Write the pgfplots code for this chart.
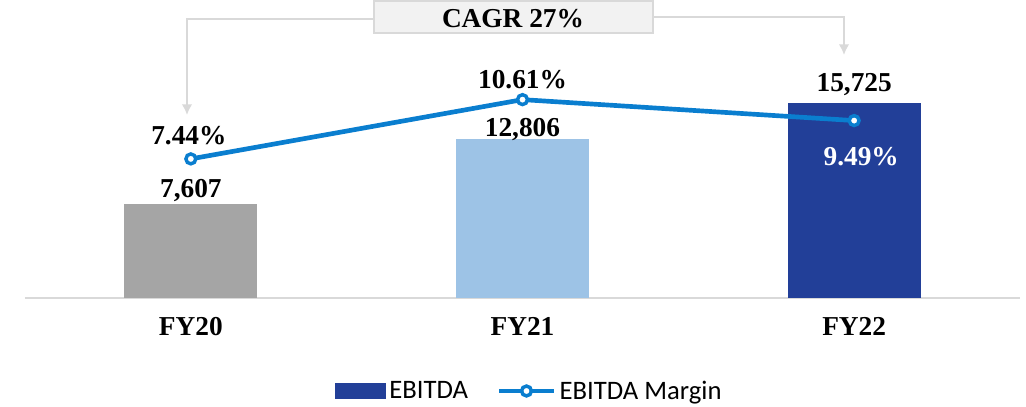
\documentclass[border=0pt]{standalone}
\usepackage{pgfplots}
\pgfplotsset{compat=1.18}
\usetikzlibrary{arrows.meta}
\usepackage{fontspec}
\setmainfont{Liberation Serif}
\newfontfamily\legfont{Carlito}

\definecolor{bargrey}{HTML}{A5A5A5}
\definecolor{barlight}{HTML}{9DC3E6}
\definecolor{bardark}{HTML}{223F98}
\definecolor{lineblue}{HTML}{0A7ECF}
\definecolor{connector}{HTML}{D9D9D9}
\definecolor{boxfill}{HTML}{F2F2F2}

\newcommand{\lbl}{\fontsize{20.5}{22}\selectfont\bfseries}
\newcommand{\leg}{\legfont\fontsize{20}{22}\selectfont}

\begin{document}
\begin{tikzpicture}
\useasboundingbox (0,0) rectangle (769.5pt,305.25pt);

% bars: EBITDA
\begin{axis}[
  at={(18.75pt,81.75pt)}, anchor=south west,
  scale only axis, width=746.25pt, height=208.5pt,
  xmin=-0.5, xmax=2.5, ymin=0, ymax=22383,
  axis y line=none, axis x line*=bottom,
  x axis line style={draw=connector, line width=1.5pt},
  xtick={0,1,2}, xticklabels={FY20,FY21,FY22},
  major tick length=0pt,
  xticklabel style={font=\lbl, anchor=base, yshift=-28.5pt},
  ytick=\empty,
  ybar, bar width=99.75pt,
  clip=false,
  legend columns=2,
  legend style={at={(0.5075,-0.3345)}, anchor=center, draw=none, fill=none,
    font=\leg, nodes={font=\leg, inner sep=2.5pt},
    /tikz/every even column/.append style={column sep=19pt}},
]
\addplot[fill=bargrey, draw=none, bar shift=0pt, forget plot] coordinates {(0,7607)};
\addplot[fill=barlight, draw=none, bar shift=0pt, forget plot] coordinates {(1,12806)};
\addplot[fill=bardark, draw=none, bar shift=0pt,
  legend image code/.code={\fill[bardark] (0pt,-6pt) rectangle (38.25pt,6pt);}]
  coordinates {(2,15725)};
\addlegendentry{EBITDA}
\addlegendimage{legend image code/.code={
  \draw[lineblue, line width=3.5pt] (0pt,0pt) -- (41.25pt,0pt);
  \draw[lineblue, fill=white, line width=2.6pt] (20.6pt,0pt) circle (3.7pt);}}
\addlegendentry{EBITDA Margin}

\node[font=\lbl, anchor=base, yshift=4.5pt] at (axis cs:0,7607) {7,607};
\node[font=\lbl, anchor=base, yshift=1.5pt] at (axis cs:1,12806) {12,806};
\node[font=\lbl, anchor=base, yshift=8.25pt] at (axis cs:2,15725) {15,725};
\end{axis}

% line: EBITDA margin (%)
\begin{axis}[
  at={(18.75pt,81.75pt)}, anchor=south west,
  scale only axis, width=746.25pt, height=208.5pt,
  xmin=-0.5, xmax=2.5, ymin=0, ymax=14.87,
  hide x axis, hide y axis, clip=false,
]
\addplot[lineblue, line width=3.5pt, mark=*, mark size=3.7pt,
  mark options={fill=white, draw=lineblue, line width=2.6pt}]
  coordinates {(0,7.44) (1,10.61) (2,9.49)};
\node[font=\lbl, anchor=base, yshift=10.5pt, xshift=-1.5pt] at (axis cs:0,7.44) {7.44\%};
\node[font=\lbl, anchor=base, yshift=8.25pt] at (axis cs:1,10.61) {10.61\%};
\node[font=\lbl, text=white, anchor=base, yshift=-33.75pt, xshift=5.25pt] at (axis cs:2,9.49) {9.49\%};
\end{axis}

% CAGR call-out
\begin{scope}[x=0.75pt, y=0.75pt]
\draw[connector, line width=1.5pt, -{Latex[length=8pt,width=8pt]}] (374,388) -- (187,388) -- (187,292);
\draw[connector, line width=1.5pt, -{Latex[length=8pt,width=8pt]}] (653,390) -- (844,390) -- (844,352);
\draw[connector, fill=boxfill, line width=1.5pt] (374,406) rectangle (653,374);
\node[font=\lbl, anchor=base] at (513,379) {CAGR 27\%};
\end{scope}
\end{tikzpicture}
\end{document}
